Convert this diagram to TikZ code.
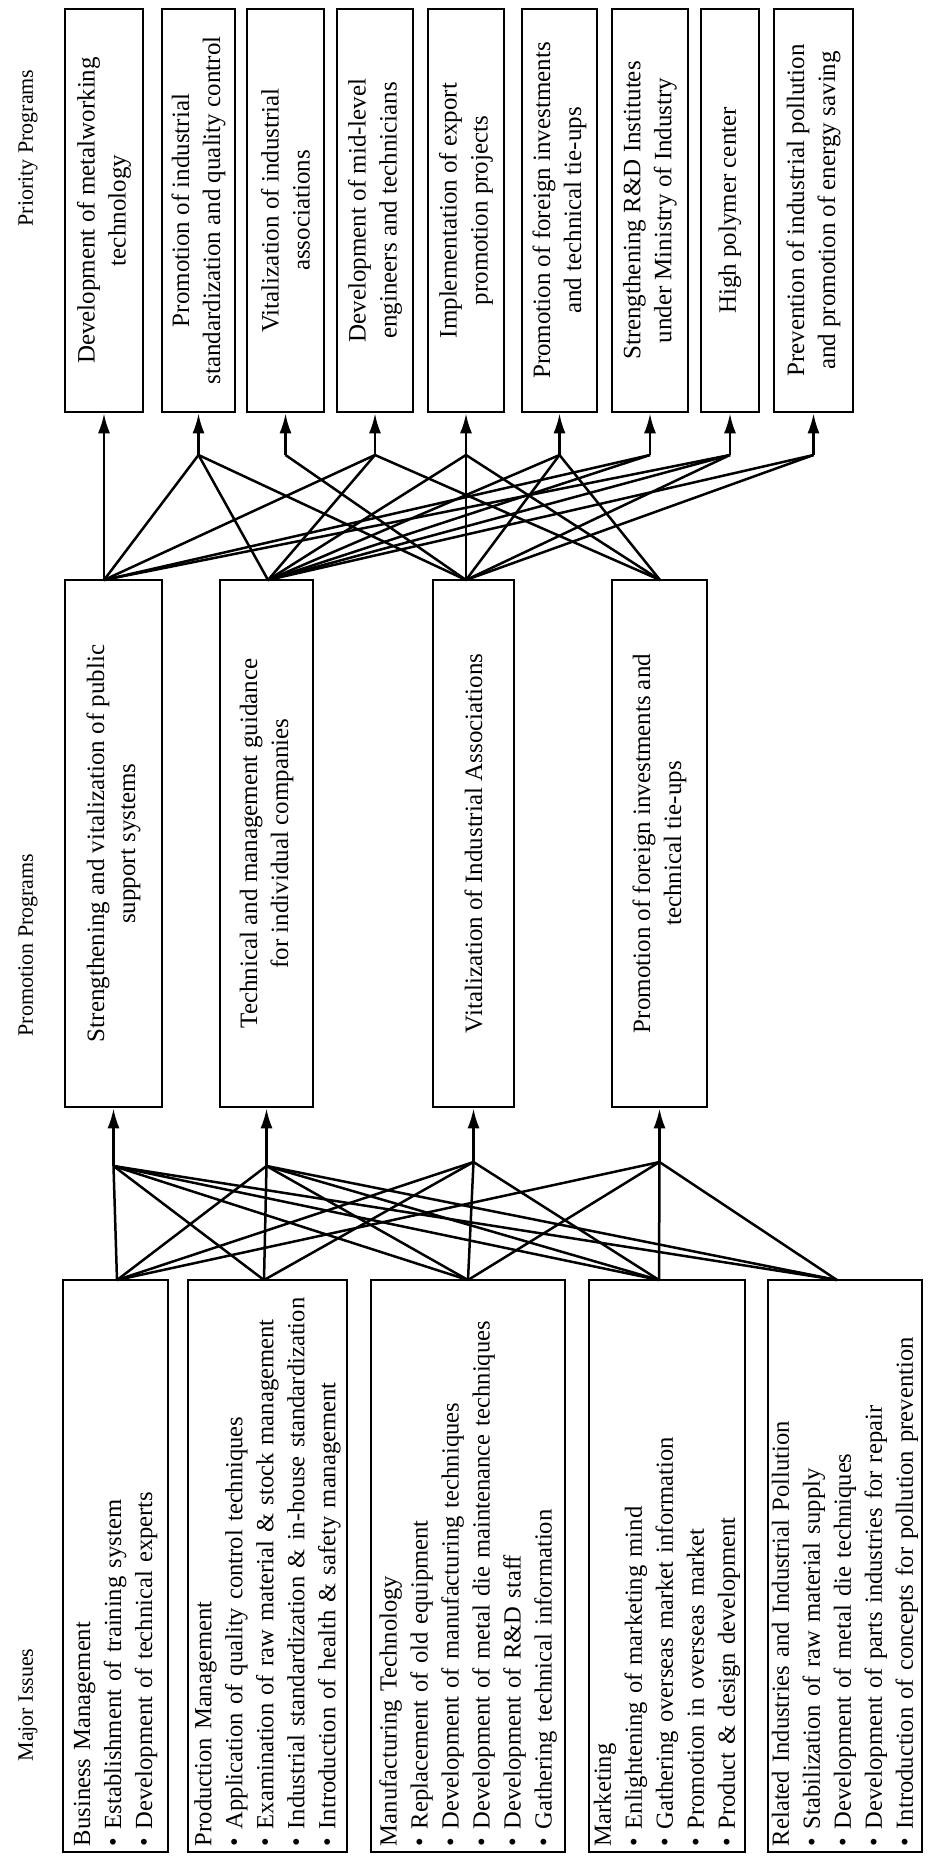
\documentclass[tikz,border=0pt]{standalone}
\usepackage{fontspec}
\setmainfont{Liberation Serif}
\usetikzlibrary{arrows.meta}
\begin{document}
\begin{tikzpicture}[x=0.5pt,y=-0.5pt,
  txt/.style={font=\fontsize{12.5}{15.5}\selectfont},
  box/.style={txt, draw, line width=1.3pt, rotate=90, inner xsep=3pt, inner ysep=2pt, align=center},
  pbox/.style={box, minimum width=201.5pt},
  mbox/.style={box, minimum width=263.5pt},
  ibox/.style={box, font=\fontsize{12.3}{15.5}\selectfont, minimum width=286pt, text width=280pt, align=left, inner xsep=3pt},
  hdr/.style={rotate=90, font=\fontsize{11}{13}\selectfont},
  ln/.style={line width=1.25pt},
  arr/.style={line width=1.25pt, -{Latex[length=10pt,width=6pt]}}
]
\useasboundingbox (0,0) rectangle (927,1859);

% headers
\node[hdr] (h1) at (28,148) {Priority Programs};
\node[hdr] (h2) at (28,945) {Promotion Programs};
\node[hdr] (h3) at (28,1705) {Major Issues};

% priority programs
\node[pbox, minimum height=39pt]   (pr1) at (104,210.5) {Development of metalworking\\technology};
\node[pbox, minimum height=36.5pt] (pr2) at (198.5,210.5) {Promotion of industrial\\standardization and quality control};
\node[pbox, minimum height=38.5pt] (pr3) at (285.5,210.5) {Vitalization of industrial\\associations};
\node[pbox, minimum height=38pt]   (pr4) at (375,210.5) {Development of mid-level\\engineers and technicians};
\node[pbox, minimum height=38pt]   (pr5) at (466,210.5) {Implementation of export\\promotion projects};
\node[pbox, minimum height=37.5pt] (pr6) at (559.5,210.5) {Promotion of foreign investments\\and technical tie-ups};
\node[pbox, minimum height=38pt]   (pr7) at (650,210.5) {Strengthening R\&D Institutes\\under Ministry of Industry};
\node[pbox, minimum height=29pt]   (pr8) at (730,210.5) {High polymer center};
\node[pbox, minimum height=39.5pt] (pr9) at (813.5,210.5) {Prevention of industrial pollution\\and promotion of energy saving};

% promotion programs
\node[mbox, minimum height=48.5pt] (pp1) at (113.5,843.5) {Strengthening and vitalization of public\\support systems};
\node[mbox, minimum height=46.5pt] (pp2) at (266.5,843.5) {Technical and management guidance\\for individual companies};
\node[mbox, minimum height=40.5pt] (pp3) at (473.5,843.5) {Vitalization of Industrial Associations};
\node[mbox, minimum height=47.5pt] (pp4) at (659.5,843.5) {Promotion of foreign investments and\\technical tie-ups};

% major issues
\node[ibox, minimum height=52.5pt] (mi1) at (115.5,1566) {Business Management\\
\textbullet\ Establishment of training system\\
\textbullet\ Development of technical experts};
\node[ibox, minimum height=79.5pt] (mi2) at (267.5,1566) {Production Management\\
\textbullet\ Application of quality control techniques\\
\textbullet\ Examination of raw material \& stock management\\
\mbox{\textbullet\ Industrial standardization \& in-house standardization}\\
\textbullet\ Introduction of health \& safety management};
\node[ibox, minimum height=97pt] (mi3) at (468,1566) {Manufacturing Technology\\
\textbullet\ Replacement of old equipment\\
\textbullet\ Development of manufacturing techniques\\
\textbullet\ Development of metal die maintenance techniques\\
\textbullet\ Development of R\&D staff\\
\textbullet\ Gathering technical information};
\node[ibox, minimum height=78pt] (mi4) at (667,1566) {Marketing\\
\textbullet\ Enlightening of marketing mind\\
\textbullet\ Gathering overseas market information\\
\textbullet\ Promotion in overseas market\\
\textbullet\ Product \& design development};
\node[ibox, minimum height=75pt] (mi5) at (845,1566) {Related Industries and Industrial Pollution\\
\textbullet\ Stabilization of raw material supply\\
\textbullet\ Development of metal die techniques\\
\textbullet\ Development of parts industries for repair\\
\textbullet\ Introduction of concepts for pollution prevention};

% top fan points
\coordinate (r2) at (198.5,455);
\coordinate (r3) at (285.5,455);
\coordinate (r4) at (375,455);
\coordinate (r5) at (466,455);
\coordinate (r6) at (559.5,455);
\coordinate (r7) at (650,455);
\coordinate (r8) at (730,455);
\coordinate (r9) at (813.5,455);
\coordinate (q1) at (104,580);
\coordinate (q2) at (268,580);
\coordinate (q3) at (466,580);
\coordinate (q4) at (660,580);

% bottom fan points
\coordinate (p1) at (113.5,1166);
\coordinate (p2) at (266.5,1166);
\coordinate (p3) at (473.5,1162);
\coordinate (p4) at (659.5,1162);
\coordinate (m1) at (117,1280);
\coordinate (m2) at (264,1280);
\coordinate (m3) at (468,1280);
\coordinate (m4) at (659,1280);
\coordinate (m5) at (837,1280);

% arrows into priority programs
\draw[arr] (q1) -- (q1 |- pr1.west);
\foreach \i in {2,...,9} \draw[arr] (r\i) -- (r\i |- pr\i.west);

% top fan
\foreach \j in {2,4,7,8} \draw[ln] (q1) -- (r\j);
\foreach \j in {2,4,5,6,7,8,9} \draw[ln] (q2) -- (r\j);
\foreach \j in {2,3,5,6,8,9} \draw[ln] (q3) -- (r\j);
\foreach \j in {4,5,6} \draw[ln] (q4) -- (r\j);

% arrows into promotion programs
\foreach \i in {1,...,4} \draw[arr] (p\i) -- (p\i |- pp\i.west);

% bottom fan
\foreach \j in {1,2,3,4,5} \draw[ln] (p1) -- (m\j);
\foreach \j in {1,2,3,4,5} \draw[ln] (p2) -- (m\j);
\foreach \j in {1,2,3,4} \draw[ln] (p3) -- (m\j);
\foreach \j in {1,3,4,5} \draw[ln] (p4) -- (m\j);
\end{tikzpicture}
\end{document}
